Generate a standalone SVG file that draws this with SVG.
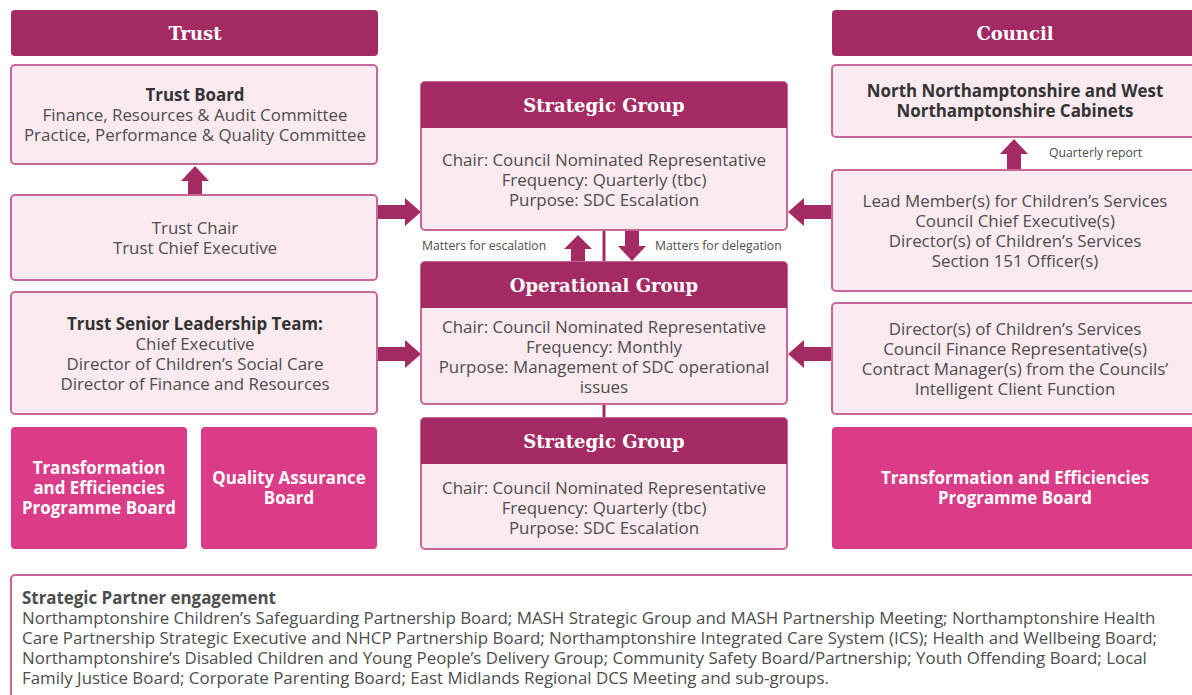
<svg xmlns="http://www.w3.org/2000/svg" width="1192" height="695" viewBox="0 0 1192 695">
<style>
.hdr{fill:#A32A63}
.box{fill:#FCEAF1;stroke:#C7679A;stroke-width:2}
.pink{fill:#DA3C87}
.arr{fill:#A32A63}
.ht{font-family:"DejaVu Serif",serif;font-weight:bold;font-size:18px;fill:#fff;text-anchor:middle}
.t{font-family:"Open Sans",sans-serif;font-size:16.9px;fill:#4d4d4d;text-anchor:middle}
.b{font-weight:bold;fill:#333}
.w{font-family:"Open Sans",sans-serif;font-size:16.9px;font-weight:bold;fill:#fff;text-anchor:middle}
.s{font-family:"Open Sans",sans-serif;font-size:12.2px;fill:#4d4d4d}
.l{font-family:"Open Sans",sans-serif;font-size:16.9px;fill:#4d4d4d}
</style>
<rect width="1192" height="695" fill="#fff"/>
<g id="connectors">
<line x1="604" y1="230" x2="604" y2="262" stroke="#A32A63" stroke-width="3"/>
<line x1="604" y1="404" x2="604" y2="418" stroke="#A32A63" stroke-width="3"/>
<polygon class="arr" points="188,195 202,195 202,181 209,181 195,166 181,181 188,181"/>
<polygon class="arr" points="1007,169 1021,169 1021,154 1028,154 1014,139 1000,154 1007,154"/>
<polygon class="arr" points="571,262 585,262 585,249 592,249 578,235 564,249 571,249"/>
<polygon class="arr" points="625,230 639,230 639,246 646,246 632,261 618,246 625,246"/>
<polygon class="arr" points="377,205 405,205 405,198 421,212 405,226 405,219 377,219"/>
<polygon class="arr" points="377,347 405,347 405,340 421,354 405,368 405,361 377,361"/>
<polygon class="arr" points="832,205 804,205 804,198 788,212 804,226 804,219 832,219"/>
<polygon class="arr" points="832,347 804,347 804,340 788,354 804,368 804,361 832,361"/>
<text class="s" x="422" y="250">Matters for escalation</text>
<text class="s" x="655" y="250">Matters for delegation</text>
<text class="s" x="1049" y="157">Quarterly report</text>
</g>
<g id="trust-header"><rect class="hdr" x="11" y="10" width="367" height="46" rx="4"/><text class="ht" x="195" y="40">Trust</text></g>
<g id="council-header"><rect class="hdr" x="832" y="10" width="370" height="46" rx="4"/><text class="ht" x="1015" y="40">Council</text></g>
<g id="trust-board"><rect class="box" x="11" y="65" width="366" height="99" rx="4"/>
<text class="t b" x="195" y="101">Trust Board</text>
<text class="t" x="195" y="121">Finance, Resources &amp; Audit Committee</text>
<text class="t" x="195" y="141">Practice, Performance &amp; Quality Committee</text></g>
<g id="trust-chair"><rect class="box" x="11" y="195" width="366" height="85" rx="4"/>
<text class="t" x="195" y="234">Trust Chair</text>
<text class="t" x="195" y="254">Trust Chief Executive</text></g>
<g id="trust-slt"><rect class="box" x="11" y="292" width="366" height="122" rx="4"/>
<text class="t b" x="195" y="330">Trust Senior Leadership Team:</text>
<text class="t" x="195" y="350">Chief Executive</text>
<text class="t" x="195" y="370">Director of Children’s Social Care</text>
<text class="t" x="195" y="390">Director of Finance and Resources</text></g>
<g id="trust-transformation"><rect class="pink" x="11" y="427" width="176" height="122" rx="4"/>
<text class="w" x="99" y="474">Transformation</text>
<text class="w" x="99" y="494">and Efficiencies</text>
<text class="w" x="99" y="514">Programme Board</text></g>
<g id="qa-board"><rect class="pink" x="201" y="427" width="176" height="122" rx="4"/>
<text class="w" x="289" y="484">Quality Assurance</text>
<text class="w" x="289" y="504">Board</text></g>
<g id="strategic-group-1"><rect class="box" x="421" y="82" width="366" height="148" rx="4"/>
<path class="hdr" d="M421,128 V86 a4,4 0 0 1 4,-4 H783 a4,4 0 0 1 4,4 V128 Z"/>
<text class="ht" x="604" y="112">Strategic Group</text>
<text class="t" x="604" y="166">Chair: Council Nominated Representative</text>
<text class="t" x="604" y="186">Frequency: Quarterly (tbc)</text>
<text class="t" x="604" y="206">Purpose: SDC Escalation</text></g>
<g id="operational-group"><rect class="box" x="421" y="262" width="366" height="142" rx="4"/>
<path class="hdr" d="M421,308 V266 a4,4 0 0 1 4,-4 H783 a4,4 0 0 1 4,4 V308 Z"/>
<text class="ht" x="604" y="292">Operational Group</text>
<text class="t" x="604" y="333">Chair: Council Nominated Representative</text>
<text class="t" x="604" y="353">Frequency: Monthly</text>
<text class="t" x="604" y="373">Purpose: Management of SDC operational</text>
<text class="t" x="604" y="393">issues</text></g>
<g id="strategic-group-2"><rect class="box" x="421" y="418" width="366" height="131" rx="4"/>
<path class="hdr" d="M421,464 V422 a4,4 0 0 1 4,-4 H783 a4,4 0 0 1 4,4 V464 Z"/>
<text class="ht" x="604" y="448">Strategic Group</text>
<text class="t" x="604" y="494">Chair: Council Nominated Representative</text>
<text class="t" x="604" y="514">Frequency: Quarterly (tbc)</text>
<text class="t" x="604" y="534">Purpose: SDC Escalation</text></g>
<g id="cabinets"><rect class="box" x="832" y="65" width="370" height="72" rx="4"/>
<text class="t b" x="1015" y="97">North Northamptonshire and West</text>
<text class="t b" x="1015" y="117">Northamptonshire Cabinets</text></g>
<g id="lead-members"><rect class="box" x="832" y="170" width="370" height="121" rx="4"/>
<text class="t" x="1015" y="207">Lead Member(s) for Children’s Services</text>
<text class="t" x="1015" y="227">Council Chief Executive(s)</text>
<text class="t" x="1015" y="247">Director(s) of Children’s Services</text>
<text class="t" x="1015" y="267">Section 151 Officer(s)</text></g>
<g id="directors"><rect class="box" x="832" y="303" width="370" height="111" rx="4"/>
<text class="t" x="1015" y="335">Director(s) of Children’s Services</text>
<text class="t" x="1015" y="355">Council Finance Representative(s)</text>
<text class="t" x="1015" y="375">Contract Manager(s) from the Councils’</text>
<text class="t" x="1015" y="395">Intelligent Client Function</text></g>
<g id="council-transformation"><rect class="pink" x="832" y="427" width="370" height="122" rx="4"/>
<text class="w" x="1015" y="484">Transformation and Efficiencies</text>
<text class="w" x="1015" y="504">Programme Board</text></g>
<g id="strategic-partner"><rect x="11" y="575" width="1200" height="140" rx="4" fill="#fff" stroke="#C7679A" stroke-width="2"/>
<text class="l b" x="22" y="604">Strategic Partner engagement</text>
<text class="l" x="22" y="624">Northamptonshire Children’s Safeguarding Partnership Board; MASH Strategic Group and MASH Partnership Meeting; Northamptonshire Health</text>
<text class="l" x="22" y="644">Care Partnership Strategic Executive and NHCP Partnership Board; Northamptonshire Integrated Care System (ICS); Health and Wellbeing Board;</text>
<text class="l" x="22" y="664">Northamptonshire’s Disabled Children and Young People’s Delivery Group; Community Safety Board/Partnership; Youth Offending Board; Local</text>
<text class="l" x="22" y="684">Family Justice Board; Corporate Parenting Board; East Midlands Regional DCS Meeting and sub-groups.</text></g>
</svg>
